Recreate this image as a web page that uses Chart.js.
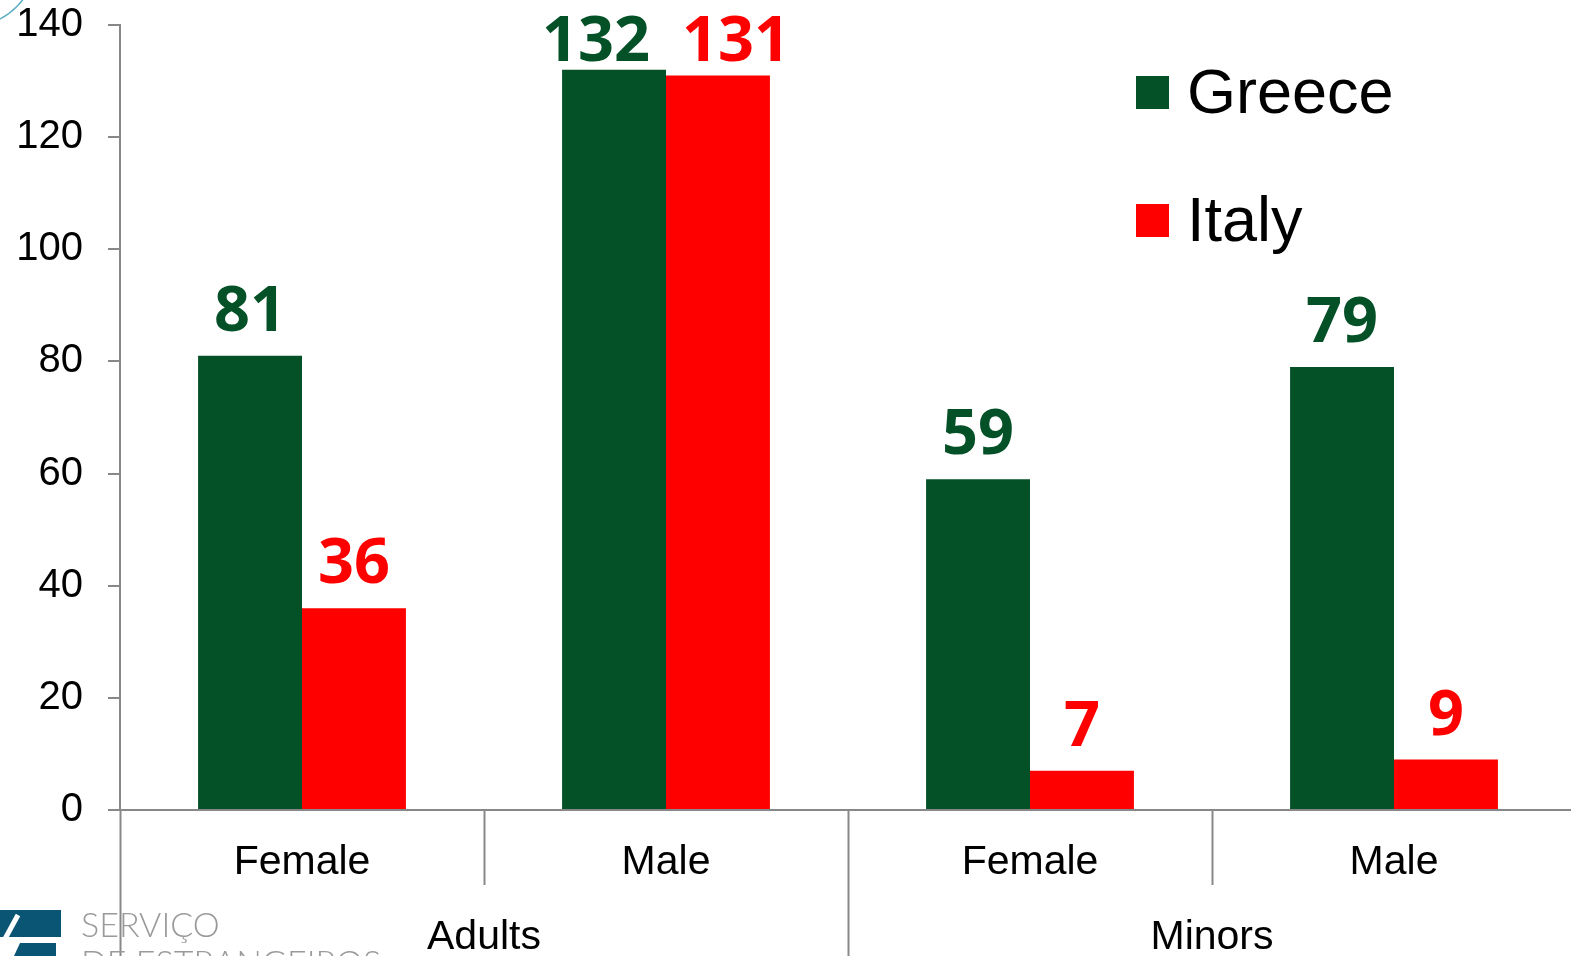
<!DOCTYPE html>
<html>
<head>
<meta charset="utf-8">
<script src="https://cdn.jsdelivr.net/npm/chart.js@4/dist/chart.umd.min.js"></script>
<style>
    html, body { margin: 0; padding: 0; background: #fff; overflow: hidden; }
    #wrap { position: absolute; left: 0; top: 0; width: 1576px; height: 956px; }
</style>
</head>
<body>
<div id="wrap"><canvas id="chart" width="1576" height="956"></canvas></div>
<script>
// Data
const categories = ['Female', 'Male', 'Female', 'Male'];
const groups = ['Adults', 'Minors'];
const greece = [81, 132, 59, 79];
const italy = [36, 131, 7, 9];
const yTicks = [0, 20, 40, 60, 80, 100, 120, 140];

const GREEN = '#045127';
const RED = '#ff0000';
const AXIS = '#888888';

// Labels above bars, category/group labels, separators, legend, logo
const decorations = {
    id: 'decorations',
    afterDatasetsDraw(chart) {
        const ctx = chart.ctx;
        const area = chart.chartArea;
        const xs = chart.scales.x;

        // value labels (pushed apart when two of them would collide)
        ctx.save();
        ctx.font = 'bold 63px "Open Sans"';
        ctx.textAlign = 'center';
        ctx.textBaseline = 'alphabetic';
        const metaA = chart.getDatasetMeta(0).data;
        const metaB = chart.getDatasetMeta(1).data;
        categories.forEach((c, i) => {
            const a = metaA[i], b = metaB[i];
            const ta = String(greece[i]), tb = String(italy[i]);
            const ya = Math.max(a.y - 25, 61);
            const yb = Math.max(b.y - 25, 61);
            let xa = a.x, xb = b.x;
            const wa = ctx.measureText(ta).width, wb = ctx.measureText(tb).width;
            const gap = (xb - wb / 2) - (xa + wa / 2);
            if (Math.abs(ya - yb) < 60 && gap < 32) {
                const shift = (32 - gap) / 2;
                xa -= shift;
                xb += shift;
            }
            ctx.fillStyle = GREEN;
            ctx.fillText(ta, xa, ya);
            ctx.fillStyle = RED;
            ctx.fillText(tb, xb, yb);
        });
        ctx.restore();

        // category separators below the axis
        const w = (area.right - area.left) / categories.length;
        ctx.save();
        ctx.strokeStyle = AXIS;
        ctx.lineWidth = 2;
        for (let k = 0; k <= categories.length; k++) {
            const x = Math.round(area.left + k * w) + 0.5;
            const bottom = (k % 2 === 0) ? chart.height : area.bottom + 75;
            ctx.beginPath();
            ctx.moveTo(x, area.bottom);
            ctx.lineTo(x, bottom);
            ctx.stroke();
        }
        ctx.restore();

        // category and group labels
        ctx.save();
        ctx.fillStyle = '#000';
        ctx.font = '41px "Liberation Sans", Arial, sans-serif';
        ctx.textAlign = 'center';
        ctx.textBaseline = 'alphabetic';
        categories.forEach((c, i) => {
            ctx.fillText(c, xs.getPixelForValue(i), area.bottom + 64);
        });
        groups.forEach((g, i) => {
            ctx.fillText(g, area.left + (2 * i + 1) * w, area.bottom + 139);
        });
        ctx.restore();

        // legend
        ctx.save();
        ctx.font = '63px "Liberation Sans", Arial, sans-serif';
        ctx.textBaseline = 'alphabetic';
        ctx.textAlign = 'left';
        chart.data.datasets.forEach((ds, di) => {
            const top = 76 + di * 128;
            ctx.fillStyle = ds.backgroundColor;
            ctx.fillRect(1136, top, 33, 33);
            ctx.fillStyle = '#000';
            ctx.fillText(ds.label, 1187, top + 37);
        });
        ctx.restore();

        // logo bits at bottom left
        ctx.save();
        ctx.fillStyle = '#0b5574';
        ctx.fillRect(0, 910, 61, 27);
        ctx.beginPath();
        ctx.moveTo(20, 943);
        ctx.lineTo(56, 943);
        ctx.lineTo(56, 956);
        ctx.lineTo(14, 956);
        ctx.closePath();
        ctx.fill();
        ctx.strokeStyle = '#ffffff';
        ctx.lineWidth = 5;
        ctx.beginPath();
        ctx.moveTo(0, 948);
        ctx.lineTo(18, 915);
        ctx.stroke();
        ctx.fillStyle = '#9a9a9a';
        ctx.font = '300 34px Lato, "Open Sans", sans-serif';
        ctx.fillText('SERVIÇO', 81, 937);
        ctx.fillText('DE ESTRANGEIROS', 81, 975);
        ctx.restore();

        // thin arc at top-left corner
        ctx.save();
        ctx.strokeStyle = '#5aaec0';
        ctx.lineWidth = 1.5;
        ctx.beginPath();
        ctx.arc(-30, -40, 66, 0, Math.PI / 2);
        ctx.stroke();
        ctx.restore();
    }
};

new Chart(document.getElementById('chart').getContext('2d'), {
    type: 'bar',
    data: {
        labels: categories,
        datasets: [
            {
                label: 'Greece',
                data: greece,
                backgroundColor: GREEN,
                categoryPercentage: 0.571,
                barPercentage: 1.0
            },
            {
                label: 'Italy',
                data: italy,
                backgroundColor: RED,
                categoryPercentage: 0.571,
                barPercentage: 1.0
            }
        ]
    },
    options: {
        responsive: false,
        animation: false,
        devicePixelRatio: 1,
        layout: { padding: { top: 25, left: 0, right: 0, bottom: 0 } },
        plugins: {
            legend: { display: false },
            tooltip: { enabled: false }
        },
        scales: {
            x: {
                grid: { display: false },
                border: { display: true, color: AXIS, width: 2 },
                ticks: { display: false },
                afterFit(scale) {
                    scale.height = 146;
                    scale.paddingLeft = 0;
                    scale.paddingRight = 0;
                }
            },
            y: {
                min: 0,
                max: 140,
                afterBuildTicks(scale) {
                    scale.ticks = yTicks.map(v => ({ value: v }));
                },
                grid: {
                    drawOnChartArea: false,
                    drawTicks: true,
                    tickLength: 12,
                    color: AXIS,
                    lineWidth: 2
                },
                border: { display: true, color: AXIS, width: 2 },
                ticks: {
                    color: '#000',
                    padding: 25,
                    font: { family: '"Liberation Sans", Arial, sans-serif', size: 40 }
                },
                afterFit(scale) {
                    scale.width = 120;
                    scale.paddingTop = 0;
                    scale.paddingBottom = 0;
                }
            }
        }
    },
    plugins: [decorations]
});
</script>
</body>
</html>
